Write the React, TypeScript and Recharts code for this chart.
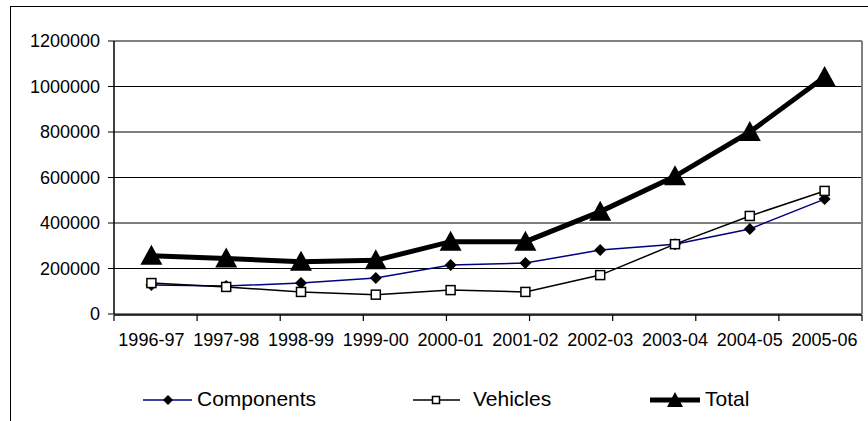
import { LineChart, Line, XAxis, YAxis, CartesianGrid } from "recharts";

const W = 868;
const H = 421;
const FONT = '"Liberation Sans", Arial, sans-serif';

const years = [
  "1996-97", "1997-98", "1998-99", "1999-00", "2000-01",
  "2001-02", "2002-03", "2003-04", "2004-05", "2005-06",
];
const components = [128000, 123000, 136000, 158000, 215000, 224000, 281000, 307000, 374000, 505000];
const vehicles = [136000, 119000, 97000, 85000, 105000, 97000, 171000, 307000, 431000, 541000];
const total = [256000, 244000, 230000, 236000, 318000, 318000, 450000, 605000, 800000, 1042000];
const yTicks = [0, 200000, 400000, 600000, 800000, 1000000, 1200000];
const boundaryTicks = [0, 1, 2, 3, 4, 5, 6, 7, 8, 9, 10];

const data = years.map((year, i) => ({
  year,
  components: components[i],
  vehicles: vehicles[i],
  total: total[i],
}));

const COLORS = {
  components: "#000080",
  vehicles: "#000000",
  total: "#000000",
};

// half a category slot, so points sit in the middle of each slot like Excel
const CAT_PAD = 37.4;

function Diamond({ cx, cy, r = 6 }: { cx: number; cy: number; r?: number }) {
  return <path d={`M${cx},${cy - r}L${cx + r},${cy}L${cx},${cy + r}L${cx - r},${cy}Z`} fill="#000" />;
}

function Square({ cx, cy, s = 9 }: { cx: number; cy: number; s?: number }) {
  return <rect x={cx - s / 2} y={cy - s / 2} width={s} height={s} fill="#fff" stroke="#000" strokeWidth={1.5} />;
}

function Triangle({ cx, cy, w = 11, up = 11, down = 9 }: { cx: number; cy: number; w?: number; up?: number; down?: number }) {
  return <path d={`M${cx},${cy - up}L${cx + w},${cy + down}L${cx - w},${cy + down}Z`} fill="#000" />;
}

// boundary axis only shows its tick marks
const NoLabel = () => <g />;

function LegendBar() {
  const y = 400;
  return (
    <svg width={W} height={H} style={{ position: "absolute", left: 0, top: 0, pointerEvents: "none" }}>
      <line x1={143} x2={192} y1={y} y2={y} stroke={COLORS.components} strokeWidth={1.5} />
      <Diamond cx={168} cy={y} r={5} />
      <text x={197} y={406} fontSize={21} fontFamily={FONT} fill="#000">Components</text>

      <line x1={413} x2={460} y1={y} y2={y} stroke="#000" strokeWidth={1.5} />
      <Square cx={436} cy={y} s={7} />
      <text x={473} y={406} fontSize={21} fontFamily={FONT} fill="#000">Vehicles</text>

      <line x1={650} x2={700} y1={y} y2={y} stroke="#000" strokeWidth={5} />
      <Triangle cx={675} cy={y} w={8} up={8} down={7} />
      <text x={705} y={406} fontSize={21} fontFamily={FONT} fill="#000">Total</text>
    </svg>
  );
}

export default function App() {
  return (
    <div style={{ position: "absolute", left: 0, top: 0, width: W, height: H, overflow: "hidden", background: "#fff", fontFamily: FONT }}>
      {/* outer chart frame */}
      <div style={{ position: "absolute", left: 10, top: 6, width: 900, height: 500, border: "1.5px solid #000" }} />
      <div style={{ position: "absolute", left: 0, top: 0 }}>
        <LineChart width={W} height={H} data={data} margin={{ top: 40, right: 5, bottom: 105, left: 24 }}>
          <CartesianGrid vertical={false} stroke="#000" strokeWidth={1} />
          <XAxis
            xAxisId="frame-top"
            orientation="top"
            dataKey="year"
            height={1}
            tick={false}
            tickLine={false}
            axisLine={{ stroke: "#808080", strokeWidth: 2 }}
          />
          <XAxis
            xAxisId="bounds"
            type="number"
            domain={[0, 10]}
            ticks={boundaryTicks}
            interval={0}
            height={1}
            tick={NoLabel}
            tickSize={6}
            tickLine={{ stroke: "#000", strokeWidth: 1.2 }}
            axisLine={{ stroke: "#000", strokeWidth: 1.5 }}
            allowDataOverflow
          />
          <XAxis
            dataKey="year"
            height={1}
            interval={0}
            padding={{ left: CAT_PAD, right: CAT_PAD }}
            axisLine={false}
            tickLine={false}
            tickSize={6}
            tickMargin={13}
            tick={{ fontSize: 18, fill: "#000", fontFamily: FONT }}
          />
          <YAxis
            width={90}
            domain={[0, 1200000]}
            ticks={yTicks}
            interval={0}
            tickSize={6}
            tickMargin={8}
            tickLine={{ stroke: "#000" }}
            axisLine={{ stroke: "#000", strokeWidth: 1.5 }}
            tick={{ fontSize: 18, fill: "#000", fontFamily: FONT }}
          />
          <YAxis
            yAxisId="frame-right"
            orientation="right"
            width={1}
            domain={[0, 1200000]}
            tick={false}
            tickLine={false}
            axisLine={{ stroke: "#808080", strokeWidth: 2 }}
          />
          <Line
            type="linear"
            dataKey="components"
            stroke={COLORS.components}
            strokeWidth={1.5}
            isAnimationActive={false}
            activeDot={false}
            dot={(p: any) => <Diamond key={`c${p.index}`} cx={p.cx} cy={p.cy} />}
          />
          <Line
            type="linear"
            dataKey="vehicles"
            stroke={COLORS.vehicles}
            strokeWidth={1.5}
            isAnimationActive={false}
            activeDot={false}
            dot={(p: any) => <Square key={`v${p.index}`} cx={p.cx} cy={p.cy} />}
          />
          <Line
            type="linear"
            dataKey="total"
            stroke={COLORS.total}
            strokeWidth={5}
            isAnimationActive={false}
            activeDot={false}
            dot={(p: any) => <Triangle key={`t${p.index}`} cx={p.cx} cy={p.cy} />}
          />
        </LineChart>
      </div>
      <LegendBar />
    </div>
  );
}
